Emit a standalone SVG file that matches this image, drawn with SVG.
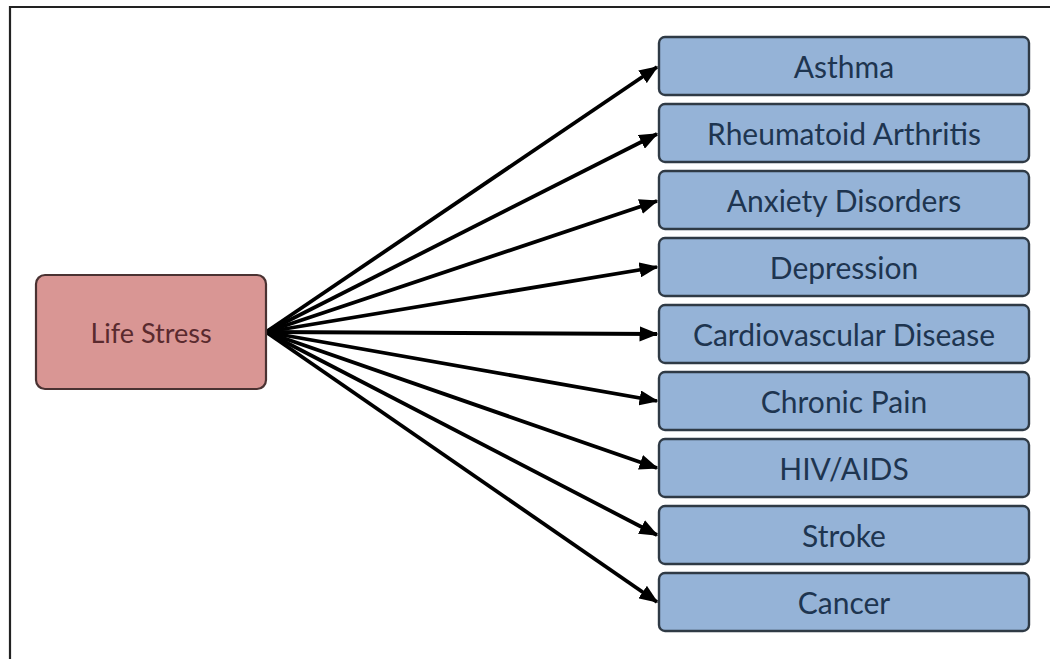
<svg xmlns="http://www.w3.org/2000/svg" width="1050" height="659" viewBox="0 0 1050 659">
<style>
.frame{fill:none;stroke:#222;stroke-width:2.2}
.src rect{fill:#d99694;stroke:#4a3232;stroke-width:2.2}
.tgt rect{fill:#95b3d7;stroke:#2f3a45;stroke-width:2.4}
text{font-family:Lato,"Liberation Sans",sans-serif;text-anchor:middle;dominant-baseline:central}
.src text{fill:#5a2a2e;font-size:27px}
.tgt text{fill:#1e3550;font-size:30px}
.edges line{stroke:#000;stroke-width:3.8;marker-end:url(#ah)}
</style>
<defs>
<marker id="ah" markerWidth="5" markerHeight="4" refX="4.6" refY="2" orient="auto" markerUnits="strokeWidth">
<path d="M0,0 L5,2 L0,4 z" fill="#000"/>
</marker>
</defs>
<rect width="1050" height="659" fill="#fff"/>
<path class="frame" d="M1050,7 H10 V659"/>
<g class="edges">
<line x1="266" y1="332" x2="657" y2="67"/>
<line x1="266" y1="332" x2="657" y2="134"/>
<line x1="266" y1="332" x2="657" y2="201"/>
<line x1="266" y1="332" x2="657" y2="267"/>
<line x1="266" y1="332" x2="657" y2="334"/>
<line x1="266" y1="332" x2="657" y2="401"/>
<line x1="266" y1="332" x2="657" y2="468"/>
<line x1="266" y1="332" x2="657" y2="535"/>
<line x1="266" y1="332" x2="657" y2="602"/>
</g>
<g id="life-stress" class="src"><rect x="36" y="275" width="230" height="114" rx="9"/><text x="151" y="332">Life Stress</text></g>
<g id="asthma" class="tgt"><rect x="659" y="37" width="370" height="58" rx="6"/><text x="844" y="66">Asthma</text></g>
<g id="rheumatoid-arthritis" class="tgt"><rect x="659" y="104" width="370" height="58" rx="6"/><text x="844" y="133">Rheumatoid Arthritis</text></g>
<g id="anxiety-disorders" class="tgt"><rect x="659" y="171" width="370" height="58" rx="6"/><text x="844" y="200">Anxiety Disorders</text></g>
<g id="depression" class="tgt"><rect x="659" y="238" width="370" height="58" rx="6"/><text x="844" y="267">Depression</text></g>
<g id="cardiovascular-disease" class="tgt"><rect x="659" y="305" width="370" height="58" rx="6"/><text x="844" y="334">Cardiovascular Disease</text></g>
<g id="chronic-pain" class="tgt"><rect x="659" y="372" width="370" height="58" rx="6"/><text x="844" y="401">Chronic Pain</text></g>
<g id="hiv-aids" class="tgt"><rect x="659" y="439" width="370" height="58" rx="6"/><text x="844" y="468">HIV/AIDS</text></g>
<g id="stroke" class="tgt"><rect x="659" y="506" width="370" height="58" rx="6"/><text x="844" y="535">Stroke</text></g>
<g id="cancer" class="tgt"><rect x="659" y="573" width="370" height="58" rx="6"/><text x="844" y="602">Cancer</text></g>
</svg>
